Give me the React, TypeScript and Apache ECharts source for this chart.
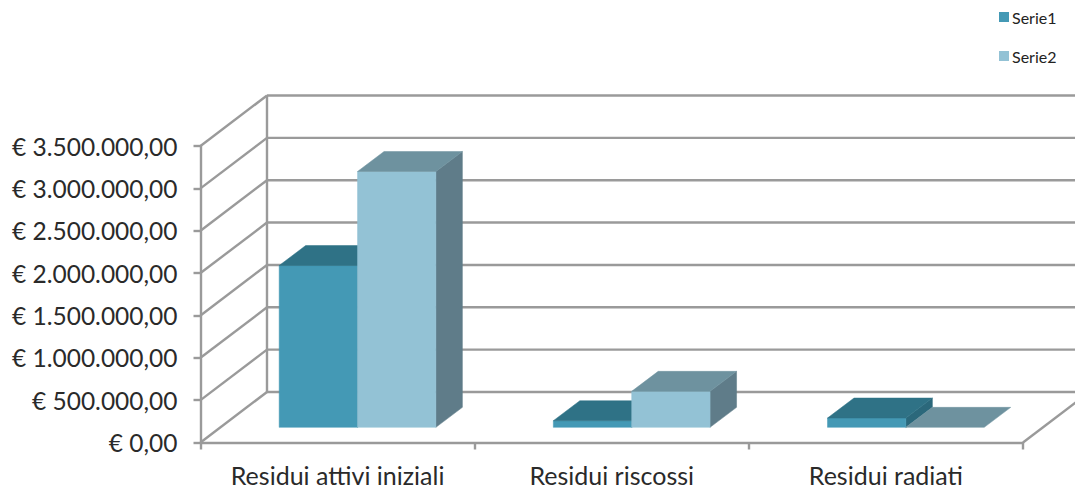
import React, { useEffect, useRef } from "react";
import * as echarts from "echarts";

const categories = ["Residui attivi iniziali", "Residui riscossi", "Residui radiati"];
const serie1 = [1910000, 78000, 110000];
const serie2 = [3020000, 425000, 0];
const yTicks = [0, 500000, 1000000, 1500000, 2000000, 2500000, 3000000, 3500000];
const yTickLabels = [
  "€ 0,00",
  "€ 500.000,00",
  "€ 1.000.000,00",
  "€ 1.500.000,00",
  "€ 2.000.000,00",
  "€ 2.500.000,00",
  "€ 3.000.000,00",
  "€ 3.500.000,00",
];

const GRID_COLOR = "#9a9a9a";
const GRID_WIDTH = 2.4;
const WALL_DX = 66.5;
const WALL_DY = 50.5;
const BAR_DX = 26.5;
const BAR_DY = 20;
const FRONT_GAP = 0.3;
const BAR_WIDTH = 0.2858;

const palette1 = { front: "#4499B5", top: "#2F7286", side: "#2B687B" };
const palette2 = { front: "#93C2D5", top: "#6E929F", side: "#5F7C89" };

function poly(points: number[][], fill: string) {
  return { type: "polygon", shape: { points }, style: { fill, stroke: fill, lineWidth: 0.5 } };
}

function barRenderer(slot: number, colors: { front: string; top: string; side: string }) {
  return (_params: any, api: any) => {
    const idx = api.value(0);
    const top = api.coord([idx, api.value(1)]);
    const base = api.coord([idx, 0]);
    const catW = api.size([1, 0])[0];
    const w = catW * BAR_WIDTH;
    const ox = WALL_DX * FRONT_GAP;
    const oy = WALL_DY * FRONT_GAP;
    const x0 = top[0] + ox - w + slot * w;
    const x1 = x0 + w;
    const yT = top[1] - oy;
    const yB = base[1] - oy;
    const children: any[] = [];
    if (yB - yT > 0.1) {
      children.push(poly([[x1, yT], [x1 + BAR_DX, yT - BAR_DY], [x1 + BAR_DX, yB - BAR_DY], [x1, yB]], colors.side));
      children.push(poly([[x0, yT], [x1, yT], [x1, yB], [x0, yB]], colors.front));
    }
    children.push(poly([[x0, yT], [x1, yT], [x1 + BAR_DX, yT - BAR_DY], [x0 + BAR_DX, yT - BAR_DY]], colors.top));
    return { type: "group", children };
  };
}

function wallRenderer(_params: any, api: any) {
  const v = api.value(1);
  const p = api.coord([0, v]);
  const catW = api.size([1, 0])[0];
  const xL = p[0] - catW / 2;
  const y = p[1];
  const xB = xL + WALL_DX;
  const yB = y - WALL_DY;
  const lineStyle = { stroke: GRID_COLOR, lineWidth: GRID_WIDTH, fill: "none" };
  const children: any[] = [
    { type: "line", shape: { x1: xL, y1: y, x2: xB, y2: yB }, style: lineStyle },
    { type: "line", shape: { x1: xB, y1: yB, x2: xL + catW * 3 + WALL_DX, y2: yB }, style: lineStyle },
  ];
  if (v === 0) {
    const yTop = api.coord([0, yTicks[yTicks.length - 1]])[1] - WALL_DY;
    children.push({ type: "line", shape: { x1: xB, y1: yB, x2: xB, y2: yTop }, style: lineStyle });
    children.push({
      type: "line",
      shape: { x1: xL + catW * 3, y1: y, x2: xL + catW * 3 + WALL_DX, y2: yB },
      style: lineStyle,
    });
  }
  return { type: "group", children };
}

export default function App() {
  const ref = useRef<HTMLDivElement>(null);
  useEffect(() => {
    document.body.style.margin = "0";
    const chart = echarts.init(ref.current!, null, { renderer: "svg" });
    const font = "Lato";
    chart.setOption({
      animation: false,
      backgroundColor: "#ffffff",
      grid: { left: 200.5, right: 52, top: 146, height: 296.5, containLabel: false },
      legend: {
        data: [
          { name: "Serie1", itemStyle: { color: palette1.front } },
          { name: "Serie2", itemStyle: { color: palette2.front } },
        ],
        orient: "vertical",
        left: 994,
        top: 4,
        icon: "rect",
        itemWidth: 10,
        itemHeight: 10,
        itemGap: 23,
        textStyle: { fontFamily: font, fontSize: 16, color: "#222222", padding: [0, 0, 0, -2] },
      },
      xAxis: {
        type: "category",
        data: categories,
        axisLine: { lineStyle: { color: GRID_COLOR, width: GRID_WIDTH } },
        axisTick: { show: true, interval: 0, length: 7, lineStyle: { color: GRID_COLOR, width: GRID_WIDTH } },
        axisLabel: { interval: 0, hideOverlap: false, fontFamily: font, fontSize: 25, color: "#2a2a2a", margin: 20 },
        splitLine: { show: false },
      },
      yAxis: {
        type: "value",
        min: 0,
        max: 3500000,
        interval: 500000,
        axisLine: { show: true, lineStyle: { color: GRID_COLOR, width: GRID_WIDTH } },
        axisTick: { show: true, length: 7, lineStyle: { color: GRID_COLOR, width: GRID_WIDTH } },
        axisLabel: {
          fontFamily: font,
          fontSize: 24.5,
          color: "#2a2a2a",
          margin: 23,
          formatter: (v: number) => yTickLabels[yTicks.indexOf(v)],
        },
        splitLine: { show: false },
      },
      series: [
        {
          name: "walls",
          type: "custom",
          silent: true,
          clip: false,
          z: 1,
          renderItem: wallRenderer,
          encode: { x: 0, y: 1 },
          data: yTicks.map((t) => [0, t]),
        },
        {
          name: "Serie1",
          type: "custom",
          clip: false,
          z: 3,
          renderItem: barRenderer(0, palette1),
          itemStyle: { color: palette1.front },
          encode: { x: 0, y: 1 },
          data: serie1.map((v, i) => [i, v]),
        },
        {
          name: "Serie2",
          type: "custom",
          clip: false,
          z: 4,
          renderItem: barRenderer(1, palette2),
          itemStyle: { color: palette2.front },
          encode: { x: 0, y: 1 },
          data: serie2.map((v, i) => [i, v]),
        },
      ],
    });
    return () => chart.dispose();
  }, []);
  return (
    <div
      ref={ref}
      style={{ position: "absolute", left: 0, top: 0, width: 1075, height: 489, overflow: "hidden" }}
    />
  );
}
